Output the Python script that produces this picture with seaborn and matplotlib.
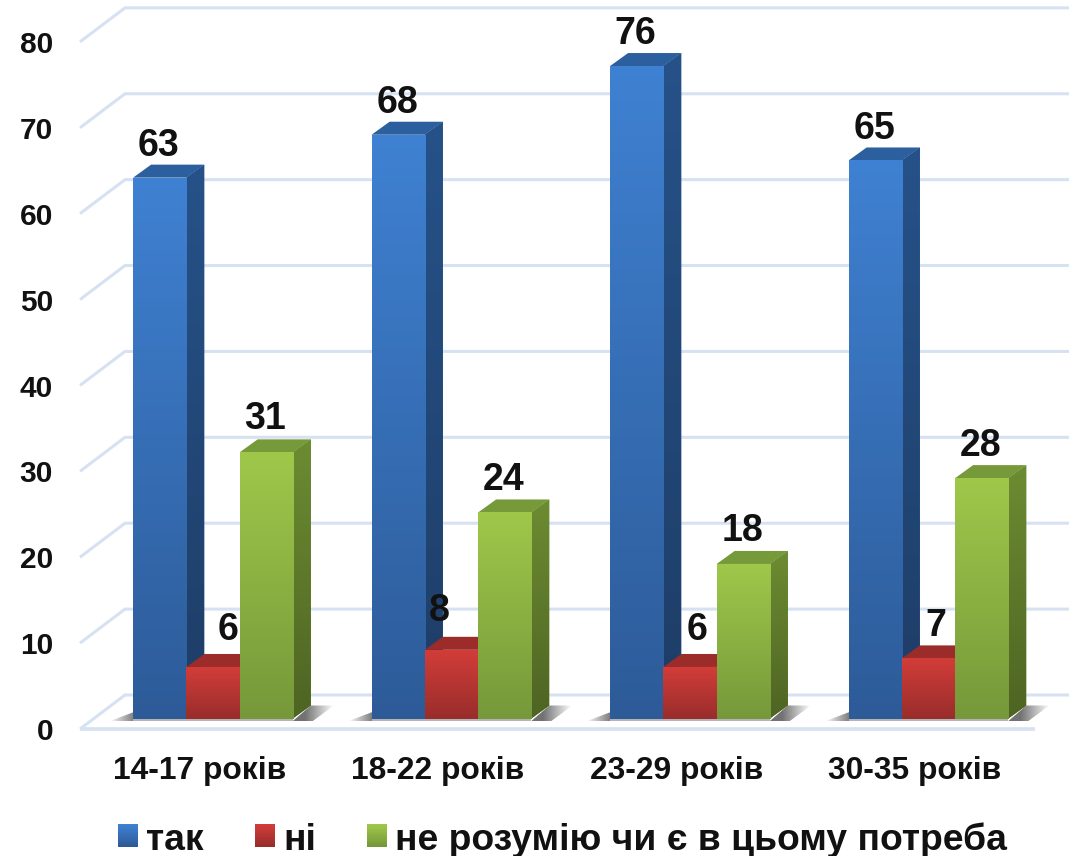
import numpy as np
import pandas as pd
import matplotlib
matplotlib.use("Agg")
import matplotlib.pyplot as plt
import seaborn as sns
from matplotlib.colors import LinearSegmentedColormap as LSC
from matplotlib.legend_handler import HandlerBase
from matplotlib.patches import Polygon, Rectangle
from matplotlib.transforms import ScaledTranslation

categories = ["14-17 років", "18-22 років", "23-29 років", "30-35 років"]
series_names = ["так", "ні", "не розумію чи є в цьому потреба"]
tak = [63, 68, 76, 65]
ni = [6, 8, 6, 7]
ne_rozumiyu = [31, 24, 18, 28]
y_ticks = [0, 10, 20, 30, 40, 50, 60, 70, 80]

front_cols = [("#3F81D2", "#2D5B98"), ("#D23D39", "#982D2B"), ("#9FC84A", "#76983A")]
side_cols = [("#265289", "#1E3D66"), ("#7E2220", "#7E2220"), ("#6C8C32", "#4E6423")]
top_cols = ["#2C5F9E", "#9B2C2A", "#76993A"]
grid_col = "#D6E2F2"
text_col = "#111111"

W, H, DPI = 1069, 856, 100
L, R, T, B = 60, 1069, 0, 745
X0, XU = 213.0, 238.5      # pixel of first category, pixels per category
Y0, YU = 718.5, 8.585      # pixel of value 0, pixels per value unit

sns.set_style("white")
plt.rcParams["font.family"] = ["Liberation Sans", "DejaVu Sans"]
plt.rcParams["font.weight"] = "bold"

df = pd.DataFrame({
    "cat": np.repeat(categories, 3),
    "series": series_names * 4,
    "val": np.ravel(np.column_stack([tak, ni, ne_rozumiyu])),
})

fig = plt.figure(figsize=(W / DPI, H / DPI), dpi=DPI)
ax = fig.add_axes([L / W, 1 - B / H, (R - L) / W, (B - T) / H])
sns.barplot(data=df, x="cat", y="val", hue="series", hue_order=series_names,
            order=categories, palette=[c[0] for c in front_cols],
            width=0.67, gap=0, legend=False, ax=ax, linewidth=0, saturation=1)

xlim = ((L - X0) / XU, (R - X0) / XU)
ylim = ((Y0 - B) / YU, (Y0 - T) / YU)


def dx(px):
    return px / XU


def dy(px):
    return px / YU


def gradient(c_top, c_bot, extent, clip, z):
    cm = LSC.from_list("g", [c_top, c_bot])
    im = ax.imshow(np.linspace(0, 1, 256).reshape(-1, 1), cmap=cm, aspect="auto",
                   extent=extent, origin="upper", zorder=z, interpolation="bilinear")
    im.set_clip_path(clip)
    return im


def hfade(alphas, extent, clip, z):
    rgba = np.zeros((1, len(alphas), 4))
    rgba[..., :3] = 0.35
    rgba[..., 3] = alphas
    im = ax.imshow(rgba, aspect="auto", extent=extent, zorder=z, interpolation="bilinear")
    im.set_clip_path(clip)


# wall and floor lines, placed from the tick values
wall_left, wall_back = dx(80 - X0), dx(125 - X0)
front_off, back_off = dy(Y0 - 729), dy(Y0 - 695)
for v in y_ticks:
    y_f, y_b = v * 1.0005 + front_off, v * 1.0005 + back_off
    ax.plot([wall_left, wall_back, xlim[1]], [y_f, y_b, y_b], color=grid_col, lw=2.2,
            zorder=1, solid_capstyle="butt", solid_joinstyle="miter", clip_on=False)
ax.plot([wall_left, dx(1035 - X0)], [front_off, front_off], color=grid_col, lw=2.6, zorder=1,
        solid_capstyle="butt")

DX, DY = dx(18), dy(13)

# bars: the seaborn patches are the fronts; sides, tops and gradients follow their geometry
for i, cont in enumerate(ax.containers):
    z = 4 + i
    for bar in cont.patches:
        x0, w, h = bar.get_x(), bar.get_width(), bar.get_height()
        x1 = x0 + w
        bar.set_zorder(z + 0.3)
        bar.set_linewidth(0)
        side = Polygon([(x1, 0), (x1 + DX, DY), (x1 + DX, h + DY), (x1, h)], closed=True,
                       transform=ax.transData, facecolor=side_cols[i][0], lw=0, zorder=z)
        ax.add_patch(side)
        gradient(side_cols[i][0], side_cols[i][1], (x1, x1 + DX, 0, h + DY), side, z + 0.1)
        ax.add_patch(Polygon([(x0, h), (x0 + DX, h + DY), (x1 + DX, h + DY), (x1, h)], closed=True,
                             facecolor=top_cols[i], lw=0, zorder=z + 0.2))
        gradient(front_cols[i][0], front_cols[i][1], (x0, x1, 0, h), bar, z + 0.4)

# floor shadow per group
low = dy(-2.5)
t = np.linspace(0, 1, 128)
for c in range(len(categories)):
    first = ax.containers[0].patches[c]
    last = ax.containers[2].patches[c]
    xl, xr = first.get_x(), last.get_x() + last.get_width()
    left = Polygon([(xl - dx(23), low), (xl + DX, DY), (xl + DX, low)], closed=True, fc="none", lw=0,
                   transform=ax.transData)
    ax.add_patch(left)
    hfade(0.8 * t ** 0.9, (xl - dx(23), xl + dx(1), low, DY), left, 2)
    right = Polygon([(xr, low), (xr + DX, DY), (xr + dx(41), DY), (xr + dx(20), low)],
                    closed=True, fc="none", lw=0, transform=ax.transData)
    ax.add_patch(right)
    hfade(np.interp(t, [0, 0.3, 1], [0.85, 0.85, 0.0]), (xr, xr + dx(41), low, DY), right, 2)
    ax.add_patch(Rectangle((xl, low), xr - xl, -low, fc="#B4B4B4", lw=0, zorder=2.5))

# value labels (offsets in pixels from the top of each front)
label_dx = [[-1, -1, -1, -1], [15, -12, 7, 7], [-1, -1, -1, -1]]
label_dy = [[32, 32, 32, 31], [37, 39, 37, 32], [33, 32, 33, 32]]
for i, cont in enumerate(ax.containers):
    for j, bar in enumerate(cont.patches):
        ax.annotate(f"{bar.get_height():.0f}",
                    xy=(bar.get_x() + bar.get_width() / 2, bar.get_height()),
                    xytext=(label_dx[i][j] * 72 / DPI, label_dy[i][j] * 72 / DPI),
                    textcoords="offset points", ha="center", va="center",
                    fontsize=27, fontweight="bold", color=text_col, zorder=10)

# axes
ax.set_xlim(*xlim)
ax.set_ylim(*ylim)
ax.set_xlabel("")
ax.set_ylabel("")
ax.set_yticks(y_ticks)
ax.set_xticks(range(len(categories)), categories)
ax.tick_params(axis="y", length=0, pad=5, labelsize=21.5, labelcolor=text_col)
ax.tick_params(axis="x", length=0, pad=8, labelsize=22.9, labelcolor=text_col)
y_shift = ScaledTranslation(0, -10.5 / DPI, fig.dpi_scale_trans)
x_shift = ScaledTranslation(-13.5 / DPI, 0, fig.dpi_scale_trans)
for lab in ax.get_yticklabels():
    lab.set_transform(lab.get_transform() + y_shift)
for lab in ax.get_xticklabels():
    lab.set_transform(lab.get_transform() + x_shift)
for lab in ax.get_xticklabels() + ax.get_yticklabels():
    lab.set_fontweight("bold")
sns.despine(ax=ax, left=True, bottom=True)
ax.patch.set_alpha(0)
ax.grid(False)


class GradHandler(HandlerBase):
    def create_artists(self, legend, orig, xd, yd, width, height, fontsize, trans):
        c_top, c_bot = orig.grad
        cm = LSC.from_list("l", [c_top, c_bot])
        n = 20
        lift = 4.0
        return [Rectangle((xd, yd + lift + height * (n - 1 - k) / n), width, height / n + 0.2,
                          fc=cm(k / (n - 1)), lw=0, transform=trans) for k in range(n)]


handles = []
for c in front_cols:
    r = Rectangle((0, 0), 1, 1)
    r.grad = c
    handles.append(r)
fig.legend(handles, series_names, loc="lower center", bbox_to_anchor=(0.5262, -0.0415), ncol=3,
           frameon=False, handler_map={Rectangle: GradHandler()},
           handlelength=0.537, handleheight=0.537, handletextpad=0.215, columnspacing=1.37,
           labelcolor=text_col, prop={"size": 26.8, "weight": "bold"})

fig.savefig("out.png", dpi=DPI)
